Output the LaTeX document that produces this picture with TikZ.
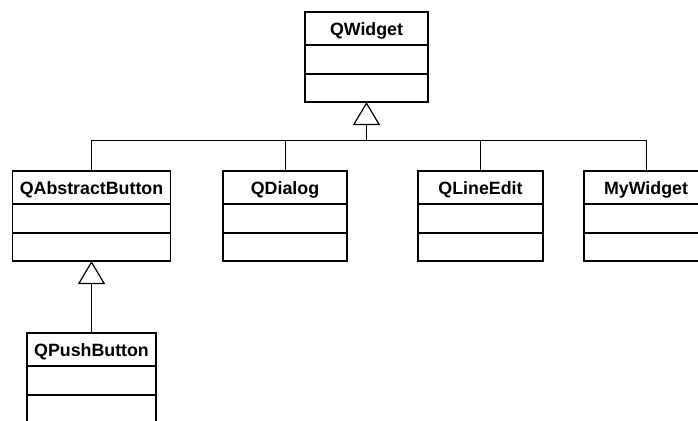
\documentclass[tikz,border=0pt]{standalone}
\usepackage{fontspec}
\setmainfont{Liberation Sans}
\usetikzlibrary{arrows.meta,calc}

\tikzset{
  classbox/.style={draw, line width=1.3pt, minimum height=90pt, inner sep=0pt, outer sep=0pt},
  classtitle/.style={minimum height=33pt, inner sep=0pt, text height=12.8pt, text depth=0pt,
                     font=\fontsize{17.8}{20}\selectfont\bfseries},
  divider/.style={line width=1.3pt},
  link/.style={line width=0.8pt},
  inherit/.style={line width=0.8pt, -{Triangle[open, length=23pt, width=27pt, line width=1.2pt]}},
}

% class box: name, top-centre point, width, title
\newcommand\umlclass[4]{%
  \node[classbox, minimum width=#3, anchor=north] (#1) at (#2) {};
  \node[classtitle, anchor=north] (#1-title) at (#1.north) {#4};
  \draw[divider] ($(#1.north west)+(0pt,-33pt)$) -- ($(#1.north east)+(0pt,-33pt)$);
  \draw[divider] ($(#1.north west)+(0pt,-62pt)$) -- ($(#1.north east)+(0pt,-62pt)$);
}

\begin{document}
\begin{tikzpicture}[x=1pt, y=-1pt]
  \useasboundingbox[fill=white] (0,0) rectangle (698,420);

  \umlclass{qwidget}{366.5,12}{123pt}{QWidget}
  \umlclass{qabstract}{91.5,171}{158pt}{QAbstractButton}
  \umlclass{qdialog}{285,171}{124pt}{QDialog}
  \umlclass{qlineedit}{480.5,171}{125pt}{QLineEdit}
  \umlclass{mywidget}{646,171}{124pt}{MyWidget}
  \umlclass{qpush}{91.5,333}{129pt}{QPushButton}

  % generalisation to QWidget through a shared bus
  \coordinate (hub) at ($(qwidget.south)+(0pt,-38pt)$);
  \draw[inherit] (hub) -- (qwidget.south);
  \draw[link] (qabstract.north) |- (hub);
  \draw[link] (qdialog.north) |- (hub);
  \draw[link] (qlineedit.north) |- (hub);
  \draw[link] (mywidget.north) |- (hub);

  % QPushButton derives from QAbstractButton
  \draw[inherit] (qpush.north) -- (qabstract.south);
\end{tikzpicture}
\end{document}
